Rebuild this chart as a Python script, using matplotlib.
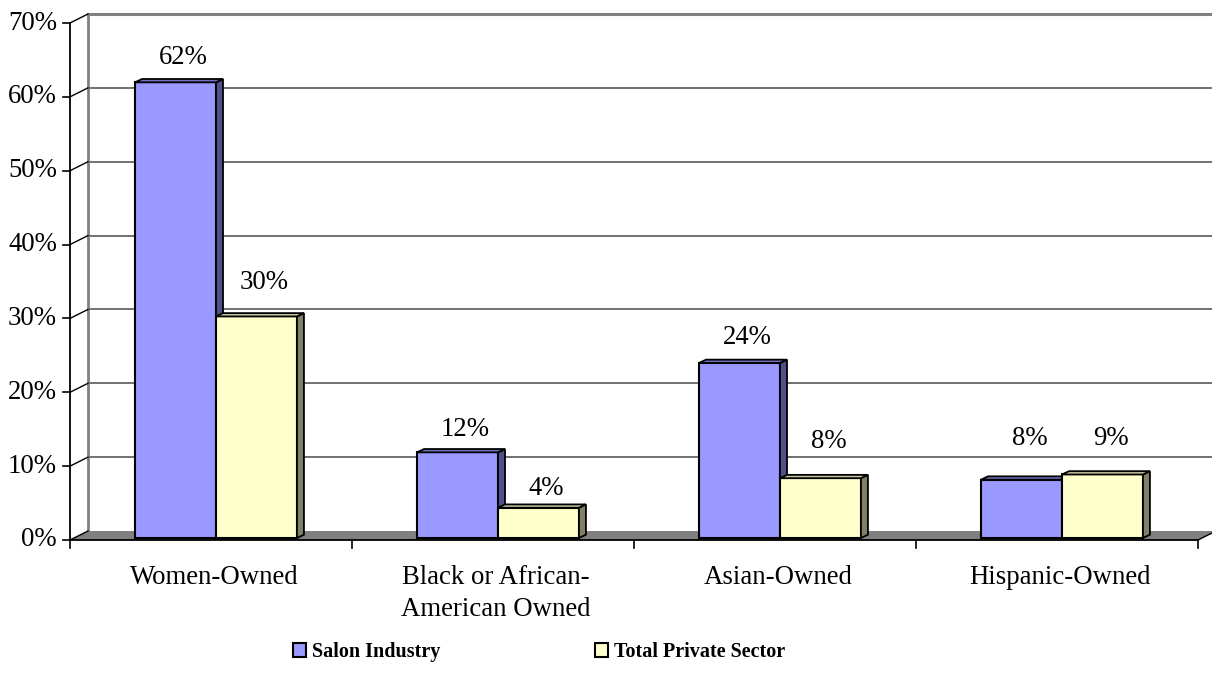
import matplotlib
matplotlib.use("Agg")
import matplotlib.pyplot as plt
from matplotlib.patches import Polygon, Patch

# ---- data ----
categories = ["Women-Owned", "Black or African-\nAmerican Owned", "Asian-Owned", "Hispanic-Owned"]
series_names = ["Salon Industry", "Total Private Sector"]
salon = [61.7, 11.6, 23.7, 7.9]
private = [30.0, 4.1, 8.1, 8.6]
y_ticks = [0, 10, 20, 30, 40, 50, 60, 70]

plt.rcParams["font.family"] = ["Liberation Serif", "DejaVu Serif"]
FS = 19.3

W, H = 1212, 673
fig = plt.figure(figsize=(W / 100, H / 100), dpi=100)
ax = fig.add_axes([70 / W, (H - 540) / H, 1128 / W, 517 / H])
ax.set_xlim(0, len(categories))
ax.set_ylim(0, 70)
ax.axis("off")

# pixels -> data units (front plane)
ux = 1128 / len(categories)
uy = 517 / 70
DX, DY = 18 / ux, 9 / uy          # depth of the back wall
fx, fy = 5 / ux, 2 / uy            # bar front face offset
bdx, bdy = 7 / ux, 3.3 / uy        # bar depth
bw = 0.287
n = len(categories)

# floor
ax.add_patch(Polygon([(0, 0), (n, 0), (n + DX, DY), (DX, DY)], closed=True,
                     facecolor="#808080", edgecolor="none", clip_on=False, zorder=1))
# back wall gridlines
for t in y_ticks[1:]:
    top = t == y_ticks[-1]
    ax.plot([DX, n + DX], [t + DY, t + DY], color="#808080" if top else "#4a4a4a",
            lw=2.2 if top else 1.1, clip_on=False, zorder=1)
ax.plot([DX, DX], [DY, y_ticks[-1] + DY], color="#808080", lw=2, clip_on=False, zorder=1)
# side wall diagonals + value axis
for t in y_ticks:
    ax.plot([0, DX], [t, t + DY], color="black", lw=1, clip_on=False, zorder=2)
    ax.plot([-7 / ux, 0], [t, t], color="black", lw=1.2, clip_on=False, zorder=2)
    ax.text(-13 / ux, t, f"{t}%", ha="right", va="center", fontsize=FS)
ax.plot([0, 0], [0, y_ticks[-1]], color="black", lw=1.3, clip_on=False, zorder=2)
# category axis
ax.plot([0, n], [0, 0], color="black", lw=1.3, clip_on=False, zorder=2)
ax.plot([n, n + DX], [0, DY], color="black", lw=1, clip_on=False, zorder=2)
for i in range(n + 1):
    ax.plot([i, i], [0, -8 / uy], color="black", lw=1.2, clip_on=False, zorder=2)
for i, cat in enumerate(categories):
    ax.text(i + 0.5 + 3 / ux, -25 / uy, cat, ha="center", va="top",
            fontsize=FS, linespacing=1.35)

styles = [
    dict(face="#9999FF", side="#50508A", top="#7070C0"),
    dict(face="#FFFFCC", side="#808066", top="#C8C8A0"),
]
label_lift = [[3.6, 3.3, 3.7, 5.9], [4.9, 2.9, 5.3, 5.2]]

z = 3
for i in range(n):
    for k, vals in enumerate([salon, private]):
        v = vals[i]
        st = styles[k]
        left = i + 0.5 - bw + k * bw + fx
        ax.bar(left, v, width=bw, bottom=fy, align="edge", color=st["face"],
               edgecolor="black", lw=1.5, zorder=z)
        r = left + bw
        ax.add_patch(Polygon([(r, fy), (r + bdx, fy + bdy), (r + bdx, fy + v + bdy), (r, fy + v)],
                             closed=True, facecolor=st["side"], edgecolor="black", lw=1.3, zorder=z))
        ax.add_patch(Polygon([(left, fy + v), (left + bdx, fy + v + bdy), (r + bdx, fy + v + bdy), (r, fy + v)],
                             closed=True, facecolor=st["top"], edgecolor="black", lw=1.3, zorder=z))
        ax.text(left + bw / 2 + 8 / ux, v + label_lift[k][i], f"{v:.0f}%",
                ha="center", va="center", fontsize=FS, zorder=10)
        z += 1

handles = [Patch(facecolor=s["face"], edgecolor="black", lw=1.5) for s in styles]
fig.legend(handles, series_names, loc="center left", bbox_to_anchor=(293 / W, 1 - 652 / H),
           ncol=2, frameon=False, prop=dict(weight="bold", size=14.5),
           handlelength=0.65, handleheight=0.65, handletextpad=0.3, columnspacing=7.65,
           borderpad=0, borderaxespad=0)

fig.savefig("out.png", dpi=100, facecolor="white")
